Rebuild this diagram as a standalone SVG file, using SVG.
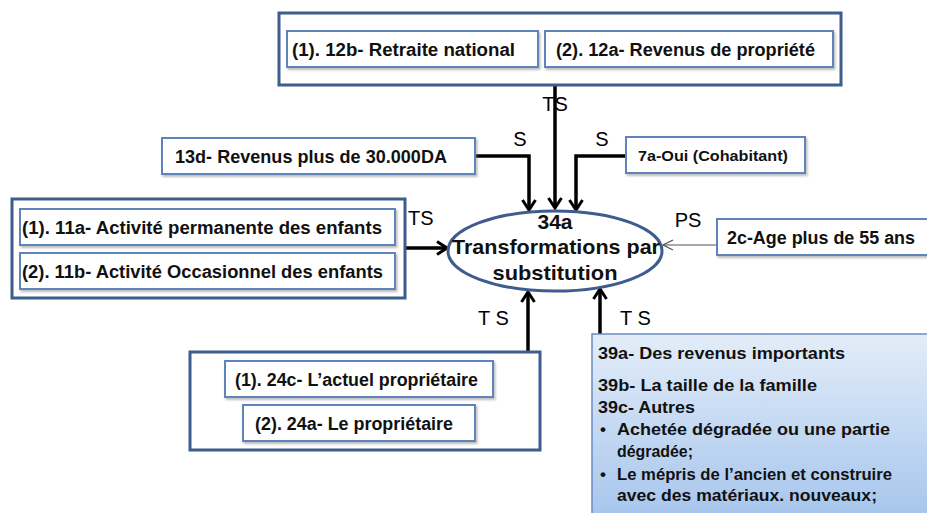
<svg xmlns="http://www.w3.org/2000/svg" width="927" height="513" viewBox="0 0 927 513">
<defs>
<style>
.outer{fill:#fff;stroke:#3e5d8e;stroke-width:3}
.inner{fill:#fff;stroke:#5f83bb;stroke-width:2;filter:url(#sh)}
.t{font-family:"Liberation Sans",Arial,sans-serif;font-weight:bold;fill:#111;dominant-baseline:central}
.lbl{font-family:"Liberation Sans",Arial,sans-serif;font-size:20px;fill:#000;dominant-baseline:central}
.c{fill:none;stroke:#000;stroke-width:3.5;marker-end:url(#ah)}
.thin{fill:none;stroke:#555;stroke-width:1.2;marker-end:url(#ahs)}
</style>
<filter id="sh" x="-10%" y="-20%" width="120%" height="150%">
<feDropShadow dx="1.5" dy="2" stdDeviation="1.2" flood-color="#7a7a7a" flood-opacity="0.5"/>
</filter>
<linearGradient id="blue" x1="0" y1="0" x2="0" y2="1">
<stop offset="0" stop-color="#e3edf9"/>
<stop offset="1" stop-color="#a6c5ec"/>
</linearGradient>
<marker id="ah" viewBox="0 0 14 16" refX="12" refY="8" markerWidth="14" markerHeight="16" markerUnits="userSpaceOnUse" orient="auto">
<path d="M2,1.5 L12,8 L2,14.5" fill="none" stroke="#000" stroke-width="3"/>
</marker>
<marker id="ahs" viewBox="0 0 12 12" refX="11" refY="6" markerWidth="12" markerHeight="12" markerUnits="userSpaceOnUse" orient="auto">
<path d="M1,1 L11,6 L1,11" fill="none" stroke="#555" stroke-width="1.2"/>
</marker>
</defs>
<rect width="927" height="513" fill="#fff"/>

<g id="connectors">
<path class="c" d="M555,85 L555,208"/>
<path class="c" d="M475,156 L529,156 L529,210"/>
<path class="c" d="M626,156 L576,156 L576,210"/>
<path class="c" d="M405,248 L447,248"/>
<path class="thin" d="M717,245 L663,245"/>
<path class="c" d="M528,352 L528,292"/>
<path class="c" d="M600,334 L600,289"/>
<text class="lbl" x="555" y="104" text-anchor="middle">TS</text>
<text class="lbl" x="520" y="139" text-anchor="middle">S</text>
<text class="lbl" x="602" y="139" text-anchor="middle">S</text>
<text class="lbl" x="408" y="218">TS</text>
<text class="lbl" x="688" y="220" text-anchor="middle">PS</text>
<text class="lbl" x="478" y="318">T S</text>
<text class="lbl" x="620" y="318">T S</text>
</g>

<g id="top-group">
<rect class="outer" x="279" y="13" width="562" height="72"/>
<g id="n12b">
<rect class="inner" x="287" y="31" width="251" height="36"/>
<text class="t" x="292" y="50" font-size="18" textLength="223" lengthAdjust="spacingAndGlyphs">(1). 12b- Retraite national</text>
</g>
<g id="n12a">
<rect class="inner" x="545" y="31" width="288" height="36"/>
<text class="t" x="556" y="50" font-size="18" textLength="259" lengthAdjust="spacingAndGlyphs">(2). 12a- Revenus de propriété</text>
</g>
</g>

<g id="n13d">
<rect class="inner" x="162" y="138" width="313" height="36"/>
<text class="t" x="175" y="157" font-size="18" textLength="272" lengthAdjust="spacingAndGlyphs">13d- Revenus plus de 30.000DA</text>
</g>

<g id="n7a">
<rect class="inner" x="626" y="137" width="179" height="36"/>
<text class="t" x="638" y="156" font-size="14" textLength="150" lengthAdjust="spacingAndGlyphs">7a-Oui (Cohabitant)</text>
</g>

<g id="n2c">
<rect class="inner" x="717" y="219" width="215" height="36"/>
<text class="t" x="727" y="238" font-size="18" textLength="188" lengthAdjust="spacingAndGlyphs">2c-Age plus de 55 ans</text>
</g>

<g id="n34a">
<ellipse cx="555" cy="251" rx="107" ry="40" fill="#fff" stroke="#3e5d8e" stroke-width="3"/>
<text class="t" x="555" y="221" font-size="21" text-anchor="middle">34a</text>
<text class="t" x="556" y="246" font-size="21" text-anchor="middle" textLength="208" lengthAdjust="spacingAndGlyphs">Transformations par</text>
<text class="t" x="555" y="272" font-size="21" text-anchor="middle" textLength="125" lengthAdjust="spacingAndGlyphs">substitution</text>
</g>

<g id="left-group">
<rect class="outer" x="12" y="199" width="393" height="99"/>
<g id="n11a">
<rect class="inner" x="20" y="209" width="375" height="36"/>
<text class="t" x="22" y="228" font-size="18" textLength="360" lengthAdjust="spacingAndGlyphs">(1). 11a- Activité permanente des enfants</text>
</g>
<g id="n11b">
<rect class="inner" x="20" y="253" width="375" height="36"/>
<text class="t" x="22" y="272" font-size="18" textLength="361" lengthAdjust="spacingAndGlyphs">(2). 11b- Activité Occasionnel des enfants</text>
</g>
</g>

<g id="bottom-group">
<rect class="outer" x="190" y="352" width="350" height="98"/>
<g id="n24c">
<rect class="inner" x="225" y="361" width="268" height="36"/>
<text class="t" x="235" y="380" font-size="18" textLength="243" lengthAdjust="spacingAndGlyphs">(1). 24c- L’actuel propriétaire</text>
</g>
<g id="n24a">
<rect class="inner" x="243" y="405" width="232" height="36"/>
<text class="t" x="255" y="424" font-size="18" textLength="198" lengthAdjust="spacingAndGlyphs">(2). 24a- Le propriétaire</text>
</g>
</g>

<g id="n39">
<rect x="592" y="334" width="340" height="185" fill="url(#blue)" stroke="#6a8cc0" stroke-width="1.5"/>
<text class="t" x="598" y="353" font-size="17" textLength="247" lengthAdjust="spacingAndGlyphs">39a- Des revenus importants</text>
<text class="t" x="598" y="385" font-size="17" textLength="219" lengthAdjust="spacingAndGlyphs">39b- La taille de la famille</text>
<text class="t" x="598" y="407" font-size="17" textLength="97" lengthAdjust="spacingAndGlyphs">39c- Autres</text>
<text class="t" x="600" y="429" font-size="17">•</text>
<text class="t" x="617" y="429" font-size="17" textLength="273" lengthAdjust="spacingAndGlyphs">Achetée dégradée ou une partie</text>
<text class="t" x="617" y="451" font-size="17" textLength="76" lengthAdjust="spacingAndGlyphs">dégradée;</text>
<text class="t" x="600" y="474" font-size="17">•</text>
<text class="t" x="617" y="474" font-size="17" textLength="275" lengthAdjust="spacingAndGlyphs">Le mépris de l’ancien et construire</text>
<text class="t" x="617" y="495" font-size="17" textLength="260" lengthAdjust="spacingAndGlyphs">avec des matériaux. nouveaux;</text>
</g>
</svg>
